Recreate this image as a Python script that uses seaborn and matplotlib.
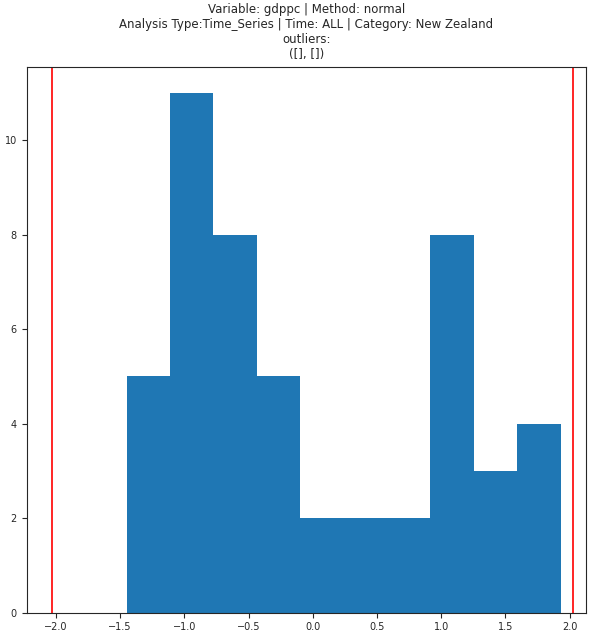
import matplotlib
matplotlib.use("Agg")
import numpy as np
import seaborn as sns
from matplotlib import pyplot as plt

bin_edges = [-1.45, -1.112, -0.774, -0.436, -0.098, 0.240, 0.578, 0.916, 1.254, 1.592, 1.930]
counts = [5, 11, 8, 5, 2, 2, 2, 8, 3, 4]
limits = [-2.03, 2.03]

centers = [(a + b) / 2 for a, b in zip(bin_edges[:-1], bin_edges[1:])]

sns.set_style("ticks")
plt.rcParams['font.family'] = ['DejaVu Sans']
fig, ax = plt.subplots(figsize=(5.92, 6.35), dpi=100)
sns.histplot(x=centers, weights=counts, bins=bin_edges, ax=ax,
             color='#1f77b4', alpha=1, edgecolor='none', linewidth=0)
for v in limits:
    ax.axvline(v, color='red', linewidth=1.2)
ax.set_xlabel('')
ax.set_ylabel('')
ax.set_xticks([-2.0, -1.5, -1.0, -0.5, 0.0, 0.5, 1.0, 1.5, 2.0])
ax.tick_params(labelsize=7)
ax.set_title("Variable: gdppc | Method: normal\nAnalysis Type:Time_Series | Time: ALL | Category: New Zealand\noutliers:\n([], [])",
             fontsize=8.5)
fig.subplots_adjust(left=0.045, right=0.99, bottom=0.035, top=0.895)
fig.savefig('out.png', dpi=100)
